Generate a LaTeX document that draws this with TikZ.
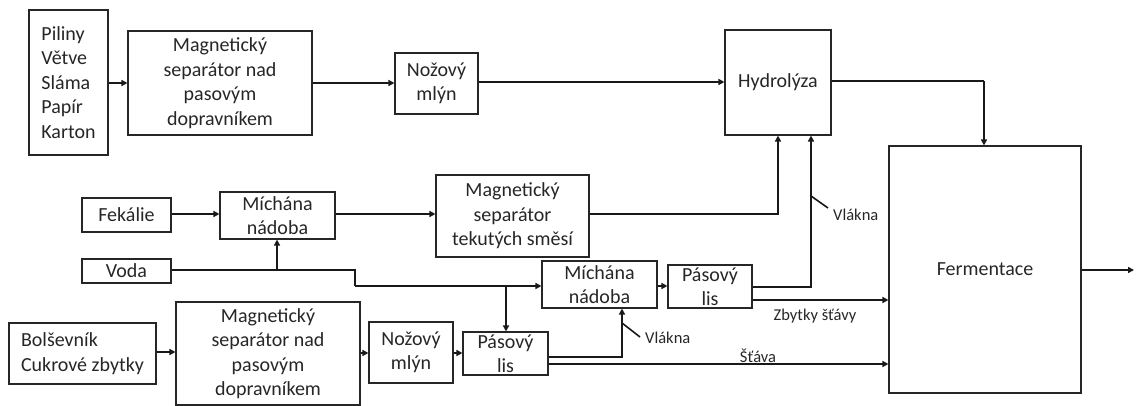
\documentclass[tikz,border=0pt]{standalone}
\usepackage{fontspec}
\setmainfont{Carlito}
\usetikzlibrary{arrows.meta,calc}
\tikzset{
  box/.style={draw=black!85, line width=1.1pt, inner sep=0pt, align=center,
    font=\fontsize{20}{24.5}\selectfont, text=black!85},
  conn/.style={line width=1.8pt, black!90, -{Triangle[length=6pt,width=6pt]}},
  plain/.style={line width=1.8pt, black!90},
  lbl/.style={font=\fontsize{16.5}{19}\selectfont, inner sep=0pt, text=black!85},
  tick/.style={line width=1.6pt, black!90}
}
\begin{document}
\begin{tikzpicture}[x=1pt,y=-1pt]
\useasboundingbox (0,0) rectangle (1136,406);
% nodes
\node[box, minimum width=79pt, minimum height=145pt, align=left] (inp) at (68.5,82.5) {Piliny\\Větve\\Sláma\\Papír\\Karton};
\node[box, minimum width=184pt, minimum height=104pt] (ms1) at (220,83) {Magnetický\\separátor nad\\pasovým\\dopravníkem};
\node[box, minimum width=83pt, minimum height=61pt] (nm1) at (436.5,83.5) {Nožový\\mlýn};
\node[box, minimum width=106pt, minimum height=105pt] (hyd) at (778,82.5) {Hydrolýza};
\node[box, minimum width=192pt, minimum height=247pt] (fer) at (985,269.5) {Fermentace};
\node[box, minimum width=89pt, minimum height=34pt] (fek) at (126.5,215) {Fekálie};
\node[box, minimum width=115pt, minimum height=47pt] (mn1) at (277.5,215.5) {Míchána\\nádoba};
\node[box, minimum width=153pt, minimum height=82pt] (mst) at (512.5,216) {Magnetický\\separátor\\tekutých směsí};
\node[box, minimum width=89pt, minimum height=24pt] (voda) at (126.5,271) {Voda};
\node[box, minimum width=115pt, minimum height=47pt] (mn2) at (599.5,284.5) {Míchána\\nádoba};
\node[box, minimum width=84pt, minimum height=43pt] (pl2) at (710,286.5) {Pásový\\lis};
\node[box, minimum width=147pt, minimum height=61pt, align=left] (bol) at (82.5,353.5) {Bolševník\\Cukrové zbytky};
\node[box, minimum width=184pt, minimum height=103pt] (ms2) at (268,353.5) {Magnetický\\separátor nad\\pasovým\\dopravníkem};
\node[box, minimum width=84pt, minimum height=61pt] (nm2) at (411,352.5) {Nožový\\mlýn};
\node[box, minimum width=85pt, minimum height=43pt] (pl1) at (505.5,353.5) {Pásový\\lis};
% helper coordinates
\coordinate (hf) at (984,81);
\coordinate (mh) at (778,214);
\coordinate (vj) at (277,270);
\coordinate (vs1) at (355,270);
\coordinate (vs2) at (355,286);
\coordinate (vb) at (506,286);
\coordinate (ph) at (811,287);
\coordinate (pm) at (622,357);
\coordinate (out) at (1134,270);
\coordinate (t1) at (811,196);
\coordinate (t2) at (622,323);
% top row
\draw[conn] (inp.east |- 0,83) -- (ms1.west |- 0,83);
\draw[conn] (ms1.east |- 0,83) -- (nm1.west |- 0,83);
\draw[conn] (nm1.east |- 0,82) -- (hyd.west |- 0,82);
\draw[plain] (hyd.east |- hf) -- (hf);
\draw[conn] (hf) -- (hf |- fer.north);
% middle
\draw[conn] (fek.east |- 0,214) -- (mn1.west |- 0,214);
\draw[conn] (mn1.east |- 0,214) -- (mst.west |- 0,214);
\draw[conn] (mst.east |- mh) -- (mh) -- (mh |- hyd.south);
\draw[plain] (voda.east |- vs1) -- (vs1) -- (vs2);
\draw[conn] (vs2) -- (mn2.west |- vs2);
\draw[conn] (vj) -- (vj |- mn1.south);
\draw[conn] (vb) -- (vb |- pl1.north);
\draw[conn] (mn2.east |- 0,286) -- (pl2.west |- 0,286);
\draw[conn] (pl2.east |- ph) -- (ph) -- (ph |- hyd.south);
\draw[tick] (t1) -- (828,208);
\node[lbl, anchor=west] (vl1) at (833,215) {Vlákna};
\draw[conn] (pl2.east |- 0,300) -- (fer.west |- 0,300);
\node[lbl] (zb) at (815,316) {Zbytky šťávy};
% bottom row
\draw[conn] (bol.east |- 0,352) -- (ms2.west |- 0,352);
\draw[conn] (ms2.east |- 0,353) -- (nm2.west |- 0,353);
\draw[conn] (nm2.east |- 0,353) -- (pl1.west |- 0,353);
\draw[conn] (pl1.east |- pm) -- (pm) -- (pm |- mn2.south);
\draw[tick] (t2) -- (640,337);
\node[lbl, anchor=west] (vl2) at (645,338) {Vlákna};
\draw[conn] (pl1.east |- 0,364) -- (fer.west |- 0,364);
\node[lbl, anchor=base] (st) at (758,362) {Šťáva};
% output
\draw[conn] (fer.east |- out) -- (out);
\end{tikzpicture}
\end{document}
